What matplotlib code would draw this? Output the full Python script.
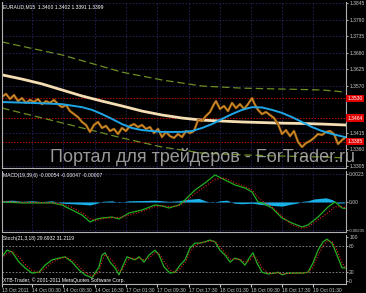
import matplotlib
matplotlib.use("Agg")
import matplotlib.pyplot as plt
import matplotlib.transforms as mtransforms

W, H = 366, 293

# ---- price panel (bar index ~ 1 bar per pixel, M15) ----
price_x = [0, 4, 8, 12, 16, 20, 24, 28, 32, 36, 40, 44, 48, 52, 56, 60, 64, 68, 72, 76,
           80, 84, 88, 92, 96, 100, 104, 108, 112, 116, 120, 124, 128, 132, 136, 140, 144, 148, 152, 156,
           160, 164, 168, 172, 176, 180, 184, 188, 192, 196, 200, 204, 208, 212, 214, 218, 222, 226, 230, 234,
           238, 242, 246, 250, 252, 256, 260, 264, 268, 272, 276, 280, 284, 288, 292, 296, 300, 304, 308, 312,
           316, 320, 324, 328, 332, 336, 340, 343]
price = [1.3534, 1.3544, 1.3527, 1.3540, 1.3520, 1.3530, 1.3514, 1.3524, 1.3517, 1.3527, 1.3510, 1.3520,
         1.3514, 1.3524, 1.3510, 1.3500, 1.3507, 1.3487, 1.3477, 1.3467, 1.3451, 1.3441, 1.3418, 1.3441,
         1.3451, 1.3431, 1.3438, 1.3421, 1.3428, 1.3411, 1.3431, 1.3421, 1.3438, 1.3444, 1.3434, 1.3441,
         1.3428, 1.3434, 1.3414, 1.3428, 1.3401, 1.3418, 1.3404, 1.3398, 1.3411, 1.3401, 1.3421, 1.3414,
         1.3421, 1.3457, 1.3454, 1.3471, 1.3484, 1.3510, 1.3520, 1.3494, 1.3504, 1.3487, 1.3514, 1.3497,
         1.3510, 1.3494, 1.3510, 1.3530, 1.3514, 1.3491, 1.3477, 1.3484, 1.3474, 1.3464, 1.3444, 1.3411,
         1.3424, 1.3404, 1.3421, 1.3385, 1.3368, 1.3381, 1.3388, 1.3398, 1.3411, 1.3408, 1.3418, 1.3421,
         1.3411, 1.3378, 1.3391, 1.3399]

ma_x = [0, 20, 40, 60, 80, 100, 120, 140, 160, 180, 200, 220, 240, 260, 280, 300, 320, 343]
ma_slow = [1.3607, 1.3593, 1.3577, 1.3557, 1.3537, 1.3520, 1.3504, 1.3487, 1.3474, 1.3464, 1.3457,
           1.3454, 1.3451, 1.3449, 1.3447, 1.3446, 1.3444, 1.3441]

ma_fast_x = [0, 30, 60, 80, 90, 100, 110, 120, 130, 140, 150, 160, 170, 180, 190, 200, 210, 220, 230,
             240, 250, 260, 270, 280, 290, 300, 310, 320, 330, 343]
ma_fast = [1.3517, 1.3514, 1.3510, 1.3500, 1.3491, 1.3477, 1.3461, 1.3444, 1.3431, 1.3424, 1.3421,
           1.3418, 1.3418, 1.3418, 1.3421, 1.3431, 1.3444, 1.3461, 1.3477, 1.3491, 1.3500, 1.3499,
           1.3491, 1.3481, 1.3467, 1.3451, 1.3434, 1.3421, 1.3411, 1.3401]

env_x = [0, 60, 120, 160, 200, 240, 280, 320, 343]
env_upper = [1.3716, 1.3673, 1.3616, 1.3590, 1.3570, 1.3563, 1.3560, 1.3557, 1.3550]
env_lower = [1.3497, 1.3448, 1.3398, 1.3368, 1.3348, 1.3342, 1.3338, 1.3335, 1.3332]

levels = [1.3530, 1.3464, 1.3385]
price_ticks = [1.3845, 1.3790, 1.3735, 1.3680, 1.3625, 1.3570, 1.3415, 1.3360, 1.3305]

# ---- MACD panel ----
macd_x = [0, 20, 40, 50, 60, 70, 80, 88, 95, 100, 110, 117, 127, 140, 153, 160, 167, 177, 183, 193,
          203, 213, 223, 233, 243, 250, 256, 260, 270, 280, 290, 300, 306, 316, 326, 333, 340, 343]
macd_main = [0.0, -0.00008, -0.00008, -0.00008, -0.00025, -0.00067, -0.00109, -0.00167, -0.00142,
             -0.00134, -0.00126, -0.00142, -0.00092, -0.00067, -0.00025, -0.00033, -0.0005, -0.00025,
             0.00017, 0.001, 0.00159, 0.00226, 0.00184, 0.00142, 0.00117, 0.00084, 0.0, -0.00008,
             -0.0005, -0.00134, -0.00176, -0.00209, -0.00192, -0.00126, -0.00042, 0.0, -0.0005, -0.00054]
macd_signal = [0.00005, -0.00003, -0.00006, -0.00007, -0.00015, -0.00045, -0.0009, -0.0014, -0.00155,
               -0.0014, -0.0013, -0.0013, -0.0011, -0.0008, -0.0004, -0.0003, -0.0004, -0.0003, 0.0,
               0.0007, 0.0013, 0.0019, 0.002, 0.0016, 0.0013, 0.001, 0.0004, 0.0001, -0.0004, -0.0012,
               -0.0019, -0.0022, -0.0021, -0.0015, -0.0009, -0.0004, -0.0004, -0.00047]
hist_x = [0, 10, 20, 30, 40, 50, 60, 70, 80, 88, 95, 100, 110, 117, 127, 140, 153, 160, 167, 177, 183,
          190, 197, 203, 210, 218, 225, 232, 240, 250, 258, 265, 272, 280, 288, 295, 300, 306, 312, 318,
          324, 330, 336, 343]
macd_hist = [0.0001, 0.00015, 0.00005, 0.0001, 0.00003, 0.0001, -0.0001, -0.00015, -0.0002, -0.00025,
             -0.0001, 0.00005, 0.0001, -0.00005, 0.0001, 0.00012, 0.00015, 0.0001, 0.00005, 0.0001,
             0.0002, 0.00025, 0.0003, 0.0001, -0.00005, 0.0001, 0.00015, -0.0001, -0.00015, -0.0001,
             -0.0002, -0.00025, -0.0003, -0.00035, -0.0002, -0.0001, 0.00005, 0.0001, 0.00025, 0.0003,
             0.00035, 0.0002, -0.0001, -0.00007]

# ---- Stochastic panel ----
stoch_x = [0, 5, 10, 17, 23, 30, 37, 43, 50, 57, 63, 70, 77, 83, 90, 97, 100, 103, 108, 113, 117, 120,
           125, 128, 133, 137, 142, 147, 153, 157, 162, 168, 173, 178, 183, 188, 193, 198, 203, 208, 213,
           218, 223, 228, 233, 238, 243, 248, 251, 255, 260, 266, 273, 276, 280, 286, 293, 300, 306, 311,
           316, 321, 325, 330, 335, 340, 343]
stoch_main = [55, 70, 66, 43, 30, 18, 20, 36, 48, 52, 55, 43, 25, 14, 7, 32, 59, 64, 43, 30, 14, 30,
              55, 52, 48, 55, 43, 59, 70, 59, 32, 18, 20, 36, 48, 75, 86, 86, 89, 93, 89, 70, 59, 43, 52,
              48, 36, 55, 64, 41, 20, 16, 18, 20, 14, 18, 18, 18, 20, 41, 70, 89, 95, 86, 59, 30, 29.7]
stoch_signal = [52, 62, 67, 55, 38, 24, 19, 28, 42, 50, 54, 48, 33, 20, 11, 20, 45, 60, 52, 38, 22, 24,
                45, 53, 50, 52, 48, 52, 64, 63, 45, 25, 19, 28, 42, 65, 80, 86, 88, 91, 90, 78, 64, 50, 49,
                50, 42, 47, 58, 50, 30, 18, 17, 19, 16, 17, 18, 18, 19, 32, 58, 80, 91, 89, 70, 42, 31.2]

tick_pos = [0, 30, 61, 93, 124, 155, 187, 218, 249, 280, 311]
tick_lab = ["13 Oct 2011", "14 Oct 00:30", "14 Oct 08:30", "14 Oct 16:30", "17 Oct 01:30",
            "17 Oct 09:30", "17 Oct 17:30", "18 Oct 01:30", "18 Oct 09:30", "18 Oct 17:30", "19 Oct 01:30"]

plt.rcParams['font.family'] = ['Liberation Sans', 'DejaVu Sans']
FS = 3.6
FG = '#c8c8c8'
GRID = '#23235e'


def box(x0, y0, x1, y1):
    return [x0 / W, 1 - y1 / H, (x1 - x0) / W, (y1 - y0) / H]


def style(ax):
    ax.set_facecolor('black')
    for s in ax.spines.values():
        s.set_color('#b0b0b0')
        s.set_linewidth(0.8)
    ax.spines['top'].set_visible(False)
    ax.yaxis.tick_right()
    ax.tick_params(axis='y', colors=FG, labelsize=FS, length=1.5, width=0.6, pad=0.8)
    ax.tick_params(axis='x', length=0, labelbottom=False)
    ax.set_xlim(0, 344)
    ax.set_xticks(tick_pos)
    ax.grid(True, color=GRID, linestyle=(0, (2, 2)), linewidth=0.6)
    ax.set_axisbelow(True)


fig = plt.figure(figsize=(W / 100, H / 100), dpi=100, facecolor='black')

# main price chart
ax1 = fig.add_axes(box(2, 2, 346, 168))
style(ax1)
ax1.set_ylim(1.32985, 1.38483)
ax1.set_yticks(price_ticks)
ax1.set_yticklabels(['%.4f' % t for t in price_ticks])
for lv in levels:
    ax1.axhline(lv, color='#c00000', linestyle=(0, (1.5, 1.5)), linewidth=0.7)
ax1.plot(env_x, env_upper, color='#6b8e23', linestyle=(0, (6, 3)), linewidth=0.9)
ax1.plot(env_x, env_lower, color='#6b8e23', linestyle=(0, (6, 3)), linewidth=0.9)
ax1.plot(ma_x, ma_slow, color='#f5deb3', linewidth=2)
ax1.plot(price_x, price, color='#8a5510', linewidth=1.8)
ax1.plot(price_x, price, color='#d8902a', linewidth=0.8)
ax1.plot(ma_fast_x, ma_fast, color='#1ea6e6', linewidth=1.4)
tr = mtransforms.blended_transform_factory(ax1.transAxes, ax1.transData)
for lv in levels:
    ax1.text(1.004, lv, '%.4f' % lv, transform=tr, fontsize=FS, color='white', va='center', ha='left',
             bbox=dict(facecolor='#e00000', edgecolor='none', pad=0.8))
ax1.text(0.003, 0.985, 'EURAUD,M15  1.3400 1.3402 1.3391 1.3399', transform=ax1.transAxes,
         fontsize=FS, color='white', va='top', ha='left')

# MACD
ax2 = fig.add_axes(box(2, 171, 346, 232))
style(ax2)
ax2.set_ylim(-0.00251, 0.00259)
ax2.set_yticks([0.0023, 0.0, -0.00235])
ax2.set_yticklabels(['0.0023', '0.00', '-0.00235'])
ax2.tick_params(axis='y', pad=0.3)
ax2.get_yticklabels()[2].set_fontsize(3.1)
ax2.fill_between(hist_x, 0, macd_hist, color='#19b2e8', linewidth=0)
ax2.plot(macd_x, macd_main, color='#1fae1f', linewidth=0.9)
ax2.plot(macd_x, macd_signal, color='#e02020', linestyle=(0, (1, 1.5)), linewidth=0.8)
ax2.text(0.003, 0.96, 'MACD(19,39,6) -0.00054 -0.00047 -0.00007', transform=ax2.transAxes,
         fontsize=FS, color='white', va='top', ha='left')

# Stochastic
ax3 = fig.add_axes(box(2, 235, 346, 284))
style(ax3)
ax3.set_ylim(-6.8, 104.5)
ax3.set_yticks([100, 80, 20, 0])
ax3.grid(False)
ax3.axhline(80, color='#909090', linestyle=(0, (2, 2)), linewidth=0.6)
ax3.axhline(20, color='#909090', linestyle=(0, (2, 2)), linewidth=0.6)
ax3.plot(stoch_x, stoch_main, color='#22b222', linewidth=0.9)
ax3.plot(stoch_x, stoch_signal, color='#e02020', linestyle=(0, (1, 1.5)), linewidth=0.8)
ax3.text(0.003, 0.97, 'Stoch(21,3,18) 29.6932 31.2119', transform=ax3.transAxes,
         fontsize=FS, color='white', va='top', ha='left')
ax3.text(0.003, 0.02, 'XTB-Trader, \u00a9 2001-2011 MetaQuotes Software Corp.', transform=ax3.transAxes,
         fontsize=FS, color='white', va='bottom', ha='left')
ax3.tick_params(axis='x', length=2, colors=FG, labelbottom=True, labelsize=FS, pad=1)
ax3.set_xticklabels(tick_lab, ha='left')

# watermark
fig.text(203 / W, 1 - 157 / H, 'Портал для трейдеров - ForTrader.ru', fontsize=13,
         family=['Liberation Sans', 'DejaVu Sans'], color='#b4b4b4', alpha=0.85,
         ha='center', va='center', zorder=10)

fig.savefig('out.png', dpi=100, facecolor='black')
